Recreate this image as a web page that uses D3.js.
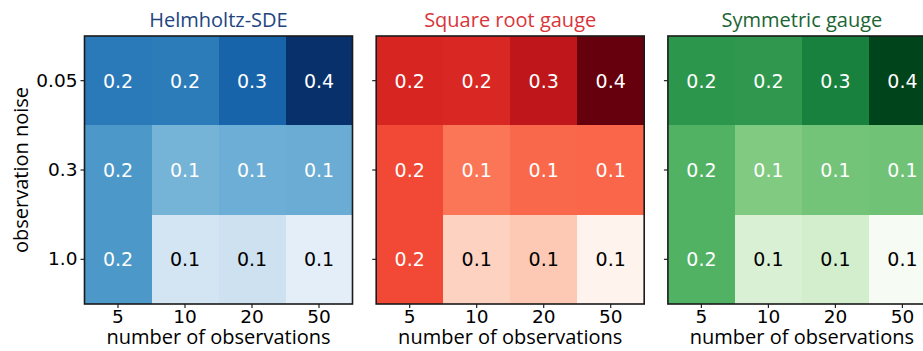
<!DOCTYPE html>
<html>
<head>
<meta charset="utf-8">
<script src="https://cdn.jsdelivr.net/npm/d3@7"></script>
<style>
    body { margin: 0; background: #fff; }
    svg { display: block; }
    .cell-label { font-family: "DejaVu Sans", sans-serif; font-size: 19px; font-weight: 400; }
    .tick text { font-family: "DejaVu Sans", sans-serif; font-size: 18.5px; font-weight: 400; fill: #000; }
    .axis-label { font-family: "Open Sans", sans-serif; font-size: 20px; fill: #000; }
    .title { font-family: "Open Sans", sans-serif; font-size: 20px; }
</style>
</head>
<body>
<svg id="chart"></svg>
<script>
// data
var observationCounts = ["5", "10", "20", "50"],
    noiseLevels = ["0.05", "0.3", "1.0"];

// rows = noise level, cols = number of observations
var helmholtzErrors = [
    [0.235, 0.230, 0.280, 0.430],
    [0.181, 0.140, 0.147, 0.149],
    [0.181, 0.074, 0.078, 0.062]
];
var sqrtGaugeErrors = [
    [0.230, 0.226, 0.274, 0.430],
    [0.178, 0.135, 0.147, 0.149],
    [0.178, 0.072, 0.077, 0.051]
];
var symmetricGaugeErrors = [
    [0.230, 0.226, 0.274, 0.430],
    [0.178, 0.135, 0.147, 0.149],
    [0.178, 0.072, 0.077, 0.051]
];

var panels = [
    {title: "Helmholtz-SDE", titleColor: "#22457f", values: helmholtzErrors, interp: d3.interpolateBlues},
    {title: "Square root gauge", titleColor: "#d8353a", values: sqrtGaugeErrors, interp: d3.interpolateReds},
    {title: "Symmetric gauge", titleColor: "#1b6434", values: symmetricGaugeErrors, interp: d3.interpolateGreens}
];

var width = 923, height = 351,
    panel_left = 84.5, panel_step = 291.7,
    panel_size = 268, panel_top = 36,
    fmt = d3.format(".1f");

var svg = d3.select("#chart").attr("width", width).attr("height", height);

var x = d3.scaleBand().domain(observationCounts).range([0, panel_size]),
    y = d3.scaleBand().domain(noiseLevels).range([0, panel_size]);

panels.forEach(function (p, i) {
    var color = d3.scaleSequentialLog(p.interp).domain([0.05, 0.43]);
    var g = svg.append("g")
        .attr("transform", "translate(" + (panel_left + i * panel_step) + "," + panel_top + ")");

    var cells = [];
    p.values.forEach(function (row, r) {
        row.forEach(function (v, c) {
            cells.push({noise: noiseLevels[r], obs: observationCounts[c], value: v});
        });
    });

    g.selectAll("rect.cell").data(cells).enter().append("rect")
        .attr("class", "cell")
        .attr("x", function (d) { return x(d.obs); })
        .attr("y", function (d) { return y(d.noise); })
        .attr("width", x.bandwidth())
        .attr("height", y.bandwidth())
        .attr("shape-rendering", "crispEdges")
        .attr("fill", function (d) { return color(d.value); });

    g.selectAll("text.cell-label").data(cells).enter().append("text")
        .attr("class", "cell-label")
        .attr("x", function (d) { return x(d.obs) + x.bandwidth() / 2; })
        .attr("y", function (d) { return y(d.noise) + y.bandwidth() / 2; })
        .attr("text-anchor", "middle")
        .attr("dy", "0.36em")
        .attr("fill", function (d) {
            var t = Math.log(d.value / 0.05) / Math.log(0.43 / 0.05);
            return t < 0.35 ? "#000" : "#fff";
        })
        .text(function (d) { return fmt(d.value); });

    // axes
    var xAxis = g.append("g")
        .attr("transform", "translate(0," + panel_size + ")")
        .call(d3.axisBottom(x).tickSize(4).tickPadding(2));
    var yAxis = g.append("g")
        .call(d3.axisLeft(y).tickSize(4).tickPadding(3));
    xAxis.select(".domain").remove();
    yAxis.select(".domain").remove();
    if (i > 0) yAxis.selectAll(".tick text").remove();
    xAxis.selectAll(".tick line").attr("stroke", "#222").attr("stroke-width", 1.2);
    yAxis.selectAll(".tick line").attr("stroke", "#222").attr("stroke-width", 1.2);

    // frame
    g.append("rect")
        .attr("width", panel_size)
        .attr("height", panel_size)
        .attr("fill", "none")
        .attr("stroke", "#1a1a1a")
        .attr("stroke-width", 1.6);

    g.append("text")
        .attr("class", "title")
        .attr("x", panel_size / 2)
        .attr("y", -9)
        .attr("text-anchor", "middle")
        .attr("fill", p.titleColor)
        .text(p.title);

    g.append("text")
        .attr("class", "axis-label")
        .attr("x", panel_size / 2)
        .attr("y", 308)
        .attr("text-anchor", "middle")
        .text("number of observations");

    if (i === 0) {
        g.append("text")
            .attr("class", "axis-label")
            .attr("transform", "translate(-57," + (panel_size / 2) + ") rotate(-90)")
            .attr("text-anchor", "middle")
            .text("observation noise");
    }
});
</script>
</body>
</html>
